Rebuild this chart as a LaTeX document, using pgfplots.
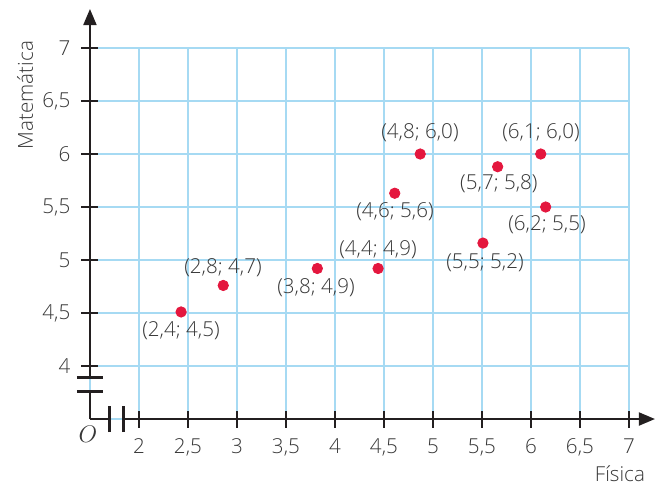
\documentclass[border=0pt]{standalone}
\usepackage{pgfplots}
\pgfplotsset{compat=1.18}
\usepackage{fontspec}
\setmainfont{Open Sans}[UprightFont=* Light]
\usetikzlibrary{arrows.meta}
\definecolor{gridblue}{RGB}{166,218,243}
\definecolor{dotred}{RGB}{228,23,62}
\definecolor{txtgray}{RGB}{55,55,55}
\definecolor{axisblack}{RGB}{35,31,32}
\begin{document}
\begin{tikzpicture}
\begin{axis}[
  x=49pt, y=53pt,
  xmin=1.5, xmax=7.265, ymin=3.5, ymax=7.368,
  axis lines=left,
  axis on top,
  clip=false,
  axis line style={axisblack, line width=1pt, -{Triangle[length=8pt,width=6.5pt]}},
  xtick={2,2.5,...,7},
  ytick={4,4.5,...,7},
  tick align=center,
  major tick length=8.5pt,
  tick style={axisblack, line width=0.75pt},
  /pgf/number format/use comma,
  /pgf/number format/assume math mode=true,
  ticklabel style={font=\fontsize{10.3}{12}\selectfont, text=txtgray},
  xticklabel style={anchor=north, yshift=-2pt},
  yticklabel style={anchor=east, xshift=-2pt},
]
\pgfplotsinvokeforeach{2,2.5,...,7}{
  \draw[gridblue, line width=1pt] (axis cs:#1,3.5) -- (axis cs:#1,7);
}
\pgfplotsinvokeforeach{4,4.5,...,7}{
  \draw[gridblue, line width=1pt] (axis cs:1.5,#1) -- (axis cs:7,#1);
}
\addplot[only marks, mark=*, mark size=2.6pt, color=dotred] coordinates {
  (2.43,4.51) (2.86,4.76) (3.82,4.92) (4.44,4.92) (4.61,5.63)
  (4.87,6.00) (5.51,5.16) (5.66,5.88) (6.10,6.00) (6.15,5.50)
};
\begin{scope}[every node/.style={font=\fontsize{10.3}{12}\selectfont, text=txtgray}]
\node at (axis cs:2.429,4.330) {(2,4; 4,5)};
\node at (axis cs:2.857,4.925) {(2,8; 4,7)};
\node at (axis cs:3.806,4.736) {(3,8; 4,9)};
\node at (axis cs:4.439,5.094) {(4,4; 4,9)};
\node at (axis cs:4.612,5.453) {(4,6; 5,6)};
\node at (axis cs:4.867,6.198) {(4,8; 6,0)};
\node at (axis cs:5.673,5.717) {(5,7; 5,8)};
\node at (axis cs:6.102,6.198) {(6,1; 6,0)};
\node at (axis cs:6.163,5.330) {(6,2; 5,5)};
\node at (axis cs:5.531,4.972) {(5,5; 5,2)};
\node[anchor=base] at (axis cs:6.908,2.906) {Física};
\node[anchor=base, rotate=90] at (axis cs:0.918,6.557) {Matemática};
\node[font=\fontsize{12}{14}\selectfont] at (axis cs:1.48,3.358) {$O$};
\end{scope}
\coordinate (yb1) at (axis cs:1.5,3.896);
\coordinate (yb2) at (axis cs:1.5,3.755);
\coordinate (xb1) at (axis cs:1.704,3.5);
\coordinate (xb2) at (axis cs:1.847,3.5);
\coordinate (bbsw) at (axis cs:0.582,2.868);
\coordinate (bbne) at (axis cs:7.276,7.453);
\end{axis}
\draw[gridblue, line width=1.2pt] (yb1) -- (yb2);
\draw[gridblue, line width=1.2pt] (xb1) -- (xb2);
\draw[axisblack, line width=1.5pt] ([xshift=-6.5pt]yb1) -- ([xshift=6.5pt]yb1);
\draw[axisblack, line width=1.5pt] ([xshift=-6.5pt]yb2) -- ([xshift=6.5pt]yb2);
\draw[axisblack, line width=1.5pt] ([yshift=-6.5pt]xb1) -- ([yshift=6.5pt]xb1);
\draw[axisblack, line width=1.5pt] ([yshift=-6.5pt]xb2) -- ([yshift=6.5pt]xb2);
\pgfresetboundingbox
\path[use as bounding box] (bbsw) rectangle (bbne);
\end{tikzpicture}
\end{document}
